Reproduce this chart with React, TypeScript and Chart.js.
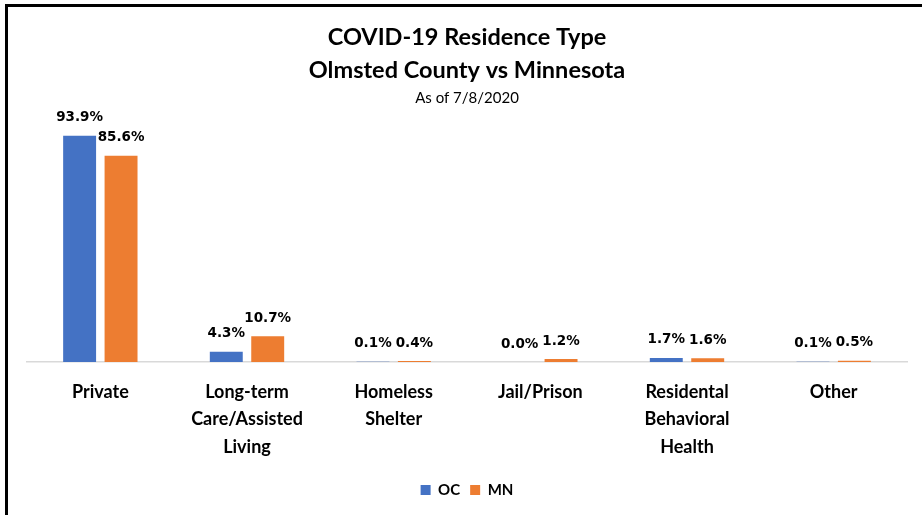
import React, { useEffect, useRef } from "react";
import { Chart, registerables } from "chart.js";

Chart.register(...registerables);

const categories: string[][] = [
  ["Private"],
  ["Long-term", "Care/Assisted", "Living"],
  ["Homeless", "Shelter"],
  ["Jail/Prison"],
  ["Residental", "Behavioral", "Health"],
  ["Other"],
];
const ocValues = [93.9, 4.3, 0.1, 0.0, 1.7, 0.1];
const mnValues = [85.6, 10.7, 0.4, 1.2, 1.6, 0.5];
const seriesNames = ["OC", "MN"];
const titleLines = ["COVID-19 Residence Type", "Olmsted County vs Minnesota"];
const subtitleText = "As of 7/8/2020";

const FONT = "Lato, 'Liberation Sans', sans-serif";

const valueLabels = {
  id: "valueLabels",
  afterDatasetsDraw(chart: any) {
    const ctx = chart.ctx;
    ctx.save();
    ctx.font = "bold 13.5px 'DejaVu Sans', sans-serif";
    ctx.fillStyle = "#000";
    ctx.textAlign = "center";
    ctx.textBaseline = "middle";
    chart.data.datasets.forEach((ds: any, i: number) => {
      const meta = chart.getDatasetMeta(i);
      meta.data.forEach((bar: any, j: number) => {
        const v = ds.data[j] as number;
        ctx.fillText(v.toFixed(1) + "%", bar.x, bar.y - 18);
      });
    });
    ctx.restore();
  },
};

export default function App() {
  const ref = useRef<HTMLCanvasElement | null>(null);

  useEffect(() => {
    if (!ref.current) return;
    const chart = new Chart(ref.current, {
      type: "bar",
      data: {
        labels: categories,
        datasets: [
          {
            label: seriesNames[0],
            data: ocValues,
            backgroundColor: "#4472C4",
            categoryPercentage: 0.565,
            barPercentage: 0.795,
          },
          {
            label: seriesNames[1],
            data: mnValues,
            backgroundColor: "#ED7D31",
            categoryPercentage: 0.565,
            barPercentage: 0.795,
          },
        ],
      },
      options: {
        responsive: false,
        animation: false,
        layout: { padding: { left: 19, right: 15, top: 0, bottom: 7.5 } },
        plugins: {
          title: {
            display: true,
            text: titleLines,
            color: "#000",
            font: { family: FONT, size: 23.5, weight: "bold", lineHeight: 1.404 },
            padding: { top: 13.5, bottom: 2 },
          },
          subtitle: {
            display: true,
            text: subtitleText,
            color: "#000",
            font: { family: FONT, size: 15, weight: "normal", lineHeight: 1.28 },
            padding: { top: 0, bottom: 13.4 },
          },
          legend: {
            display: true,
            position: "bottom",
            labels: {
              boxWidth: 10,
              boxHeight: 10,
              padding: 10,
              color: "#000",
              font: { family: FONT, size: 15, weight: "bold" },
            },
          },
          tooltip: { enabled: false },
        },
        scales: {
          x: {
            grid: { display: false, drawTicks: false },
            border: { display: true, color: "#d9d9d9", width: 1.5 },
            ticks: {
              color: "#000",
              font: { family: FONT, size: 18, weight: "bold", lineHeight: 1.528 },
              padding: 16,
              maxRotation: 0,
              autoSkip: false,
            },
            afterFit(scale: any) {
              scale.height = 110.5;
            },
          },
          y: {
            display: false,
            min: 0,
            max: 100,
          },
        },
      },
      plugins: [valueLabels],
    });
    return () => chart.destroy();
  }, []);

  return (
    <div
      style={{
        position: "absolute",
        left: 5,
        top: 4,
        width: 917,
        height: 511,
        borderTop: "3px solid #000",
        borderLeft: "3px solid #000",
        boxSizing: "border-box",
        background: "#fff",
      }}
    >
      <canvas ref={ref} width={914} height={508} style={{ display: "block" }} />
    </div>
  );
}
